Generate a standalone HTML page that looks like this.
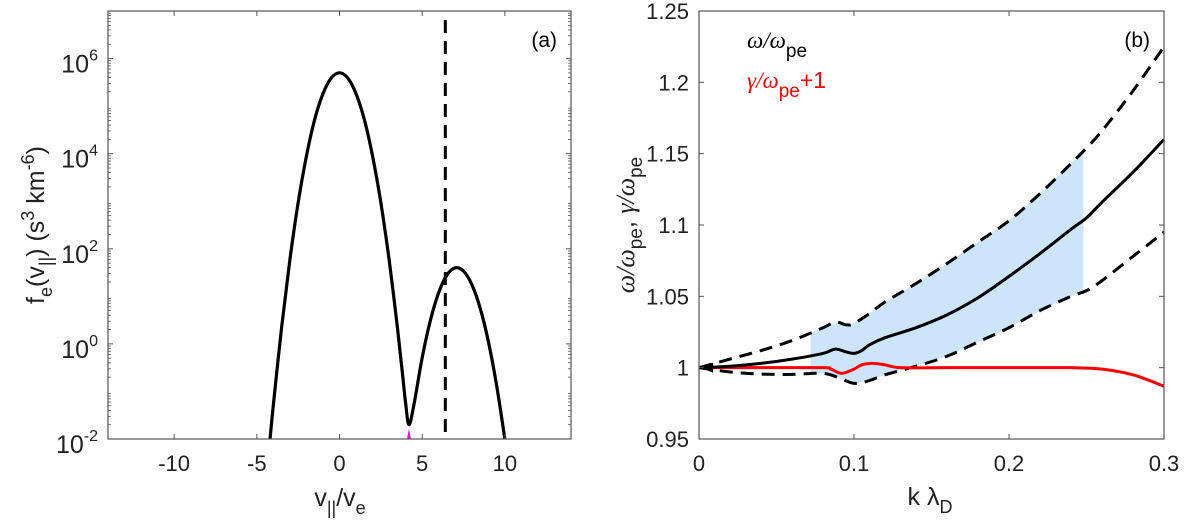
<!DOCTYPE html>
<html><head><meta charset="utf-8"><style>
body{margin:0;background:#fff;}
svg{display:block;font-family:"Liberation Sans",sans-serif;}
</style></head><body>
<svg id="fig" width="1200" height="526" viewBox="0 0 1200 526">
<g id="pa"></g>
<g id="pb"></g>
</svg>
<script>
// Panel (a) data: v_par/v_e and log10 f_e
const aV = [-4.2,-4,-3.5,-3,-2.5,-2,-1.5,-1,-0.5,0,0.5,1,1.5,2,2.5,3,3.5,3.8,4,4.2,4.5,5,5.5,6,6.5,7,7.5,8,8.5,9,9.5,10];
const aLogF = [-2.0,-1.28,0.35,1.77,2.97,3.95,4.72,5.26,5.59,5.7,5.59,5.26,4.72,3.95,2.97,1.77,0.35,-0.6,-1.25,-1.7,-1.28,-0.29,0.5,1.08,1.45,1.6,1.53,1.25,0.76,0.055,-0.87,-2.0];
const aVline = [6.4];
const aXTicks = [-10,-5,0,5,10];
const aYTicks = [-2,0,2,4,6];
// Panel (b) data
const bK = [0,0.02,0.04,0.06,0.08,0.088,0.095,0.1,0.105,0.11,0.12,0.14,0.16,0.18,0.2,0.22,0.24,0.25,0.26,0.28,0.3];
const bOmega = [1.0,1.001,1.003,1.006,1.010,1.013,1.011,1.010,1.012,1.016,1.021,1.028,1.037,1.049,1.064,1.080,1.097,1.105,1.116,1.137,1.160];
const bUpK = [0,0.02,0.04,0.06,0.08,0.088,0.095,0.1,0.11,0.12,0.14,0.16,0.18,0.2,0.22,0.24,0.25,0.26,0.28,0.3];
const bUpper = [1.0,1.006,1.012,1.019,1.028,1.032,1.030,1.031,1.038,1.046,1.059,1.073,1.088,1.103,1.122,1.143,1.154,1.166,1.194,1.225];
const bLoK = [0,0.02,0.04,0.06,0.08,0.09,0.1,0.11,0.12,0.14,0.16,0.18,0.2,0.22,0.24,0.25,0.26,0.28,0.3];
const bLower = [1.0,0.997,0.9955,0.9953,0.996,0.993,0.989,0.991,0.995,1.001,1.008,1.018,1.028,1.040,1.050,1.054,1.061,1.078,1.095];
const bRedK = [0,0.04,0.08,0.085,0.092,0.1,0.105,0.112,0.12,0.13,0.16,0.2,0.24,0.26,0.28,0.3];
const bGamma = [1.0,1.0,1.0,0.999,0.996,0.999,1.002,1.003,1.002,1.0,1.0,1.0,1.0,0.999,0.995,0.987];
const bShade = [0.072,0.248];
const bXTicks = [0,0.1,0.2,0.3];
const bYTicks = [0.95,1,1.05,1.1,1.15,1.2,1.25];

const NS="http://www.w3.org/2000/svg";
function mk(parent,tag,attrs,txt){const e=document.createElementNS(NS,tag);for(const k in attrs)e.setAttribute(k,attrs[k]);if(txt!==undefined)e.textContent=txt;parent.appendChild(e);return e;}
function smooth(pts){let d="M"+pts[0][0].toFixed(2)+","+pts[0][1].toFixed(2);for(let i=0;i<pts.length-1;i++){const p0=pts[Math.max(0,i-1)],p1=pts[i],p2=pts[i+1],p3=pts[Math.min(pts.length-1,i+2)];const c1=[p1[0]+(p2[0]-p0[0])/6,p1[1]+(p2[1]-p0[1])/6],c2=[p2[0]-(p3[0]-p1[0])/6,p2[1]-(p3[1]-p1[1])/6];d+="C"+c1[0].toFixed(2)+","+c1[1].toFixed(2)+" "+c2[0].toFixed(2)+","+c2[1].toFixed(2)+" "+p2[0].toFixed(2)+","+p2[1].toFixed(2);}return d;}
function interp(xs,ys,x){for(let i=0;i<xs.length-1;i++){if(x>=xs[i]&&x<=xs[i+1]){const t=(x-xs[i])/(xs[i+1]-xs[i]);return ys[i]+t*(ys[i+1]-ys[i]);}}return ys[ys.length-1];}

// ---------- Panel A ----------
const pa=document.getElementById('pa');
const aL=108,aR=571,aT=11,aB=439;
const ax=v=>aL+(v+14)/28*(aR-aL);
const ay=l=>aB-(l+2)/9*(aB-aT);
let c=mk(pa,'path',{d:smooth(aV.map((v,i)=>[ax(v),ay(aLogF[i])])),fill:'none',stroke:'#000','stroke-width':3.2,'stroke-linejoin':'round'});


let mg=mk(pa,'path',{d:`M${ax(4.08)},${aB} L${ax(4.2)},${ay(-1.7)+4} L${ax(4.32)},${aB}Z`,fill:'#ff00ff'});


let vl=mk(pa,'line',{x1:ax(aVline[0]),x2:ax(aVline[0]),y1:20,y2:aB,stroke:'#000','stroke-width':3,'stroke-dasharray':'13,8'});


let fa=mk(pa,'rect',{x:aL,y:aT,width:aR-aL,height:aB-aT,fill:'none',stroke:'#555','stroke-width':1.2});


for(const t of aXTicks){const x=ax(t);mk(pa,'line',{x1:x,x2:x,y1:aB,y2:aB-5,stroke:'#555'});mk(pa,'line',{x1:x,x2:x,y1:aT,y2:aT+5,stroke:'#555'});
 let tl=mk(pa,'text',{x:x,y:aB+32,'font-size':22,'text-anchor':'middle',fill:'#222'},t);
 
 }
for(let d=-2;d<7;d++){for(let m=2;m<10;m++){const y=ay(d+Math.log10(m));mk(pa,'line',{x1:aL,x2:aL+3,y1:y,y2:y,stroke:'#555','stroke-width':0.8});mk(pa,'line',{x1:aR,x2:aR-3,y1:y,y2:y,stroke:'#555','stroke-width':0.8});}}
for(const t of aYTicks){const y=ay(t);mk(pa,'line',{x1:aL,x2:aL+5,y1:y,y2:y,stroke:'#555'});mk(pa,'line',{x1:aR,x2:aR-5,y1:y,y2:y,stroke:'#555'});
 const tx=mk(pa,'text',{x:aL-10,y:y+14,'font-size':25,'text-anchor':'end',fill:'#222'});
 
 
 mk(tx,'tspan',{},'10');mk(tx,'tspan',{dy:-12,'font-size':16},String(t));}
let la=mk(pa,'text',{x:557,y:47,'font-size':21,'text-anchor':'end',fill:'#000'},'(a)');


let xla=mk(pa,'text',{x:340,y:506,'font-size':25,'text-anchor':'middle',fill:'#222'});


mk(xla,'tspan',{},'v');mk(xla,'tspan',{dy:8,'font-size':18},'||');mk(xla,'tspan',{dy:-8},'/v');mk(xla,'tspan',{dy:8,'font-size':18},'e');
let yla=mk(pa,'text',{transform:'translate(44,225) rotate(-90)','font-size':25,'text-anchor':'middle',fill:'#222'});


mk(yla,'tspan',{},'f');mk(yla,'tspan',{dy:8,'font-size':18},'e');mk(yla,'tspan',{dy:-8},'(v');mk(yla,'tspan',{dy:8,'font-size':18},'||');mk(yla,'tspan',{dy:-8},') (s');mk(yla,'tspan',{dy:-10,'font-size':18},'3');mk(yla,'tspan',{dy:10},' km');mk(yla,'tspan',{dy:-10,'font-size':18},'-6');mk(yla,'tspan',{dy:10},')');

// ---------- Panel B ----------
const pb=document.getElementById('pb');
const bL=699,bR=1164,bT=11,bB=439;
const bx=k=>bL+k/0.3*(bR-bL);
const by=w=>bB-(w-0.95)/0.3*(bB-bT);
let sp=[];const n=40;
for(let i=0;i<=n;i++){const k=bShade[0]+(bShade[1]-bShade[0])*i/n;sp.push([bx(k),by(interp(bUpK,bUpper,k))]);}
for(let i=n;i>=0;i--){const k=bShade[0]+(bShade[1]-bShade[0])*i/n;sp.push([bx(k),by(interp(bLoK,bLower,k))]);}
let sh=mk(pb,'polygon',{points:sp.map(p=>p[0].toFixed(1)+","+p[1].toFixed(1)).join(" "),fill:'#cce5fb'});


let up=mk(pb,'path',{d:smooth(bUpK.map((k,i)=>[bx(k),by(bUpper[i])])),fill:'none',stroke:'#000','stroke-width':3,'stroke-dasharray':'13,8'});


let lo=mk(pb,'path',{d:smooth(bLoK.map((k,i)=>[bx(k),by(bLower[i])])),fill:'none',stroke:'#000','stroke-width':3,'stroke-dasharray':'13,8'});


let rd=mk(pb,'path',{d:smooth(bRedK.map((k,i)=>[bx(k),by(bGamma[i])])),fill:'none',stroke:'#ff0000','stroke-width':3});


let om=mk(pb,'path',{d:smooth(bK.map((k,i)=>[bx(k),by(bOmega[i])])),fill:'none',stroke:'#000','stroke-width':3});


let ar=mk(pb,'path',{d:`M${bx(0)+1},${by(1)} L${bx(0)+14},${by(1)-5} L${bx(0)+14},${by(1)+5}Z`,fill:'#000'});


let fb=mk(pb,'rect',{x:bL,y:bT,width:bR-bL,height:bB-bT,fill:'none',stroke:'#555','stroke-width':1.2});


for(const t of bXTicks){const x=bx(t);mk(pb,'line',{x1:x,x2:x,y1:bB,y2:bB-5,stroke:'#555'});mk(pb,'line',{x1:x,x2:x,y1:bT,y2:bT+5,stroke:'#555'});
 let tl=mk(pb,'text',{x:x,y:bB+32,'font-size':22,'text-anchor':'middle',fill:'#222'},String(t));
 
 }
for(const t of bYTicks){const y=by(t);mk(pb,'line',{x1:bL,x2:bL+5,y1:y,y2:y,stroke:'#555'});mk(pb,'line',{x1:bR,x2:bR-5,y1:y,y2:y,stroke:'#555'});
 let tl=mk(pb,'text',{x:bL-10,y:y+8,'font-size':22,'text-anchor':'end',fill:'#222'},String(t));
 
 }
let lb=mk(pb,'text',{x:1150,y:47,'font-size':21,'text-anchor':'end',fill:'#000'},'(b)');


let l1=mk(pb,'text',{x:747,y:48,'font-size':23,fill:'#000'});


mk(l1,'tspan',{'font-style':'italic','font-family':'Liberation Serif,serif'},'ω/ω');mk(l1,'tspan',{dy:9,'font-size':19},'pe');
let l2=mk(pb,'text',{x:747,y:88,'font-size':23,fill:'#ff0000'});


mk(l2,'tspan',{'font-style':'italic','font-family':'Liberation Serif,serif'},'γ/ω');mk(l2,'tspan',{dy:9,'font-size':19},'pe');mk(l2,'tspan',{dy:-9},'+1');
let xlb=mk(pb,'text',{x:930,y:505,'font-size':25,'text-anchor':'middle',fill:'#222'});


mk(xlb,'tspan',{},'k λ');mk(xlb,'tspan',{dy:8,'font-size':18},'D');
let ylb=mk(pb,'text',{transform:'translate(634,225) rotate(-90)','font-size':26,'text-anchor':'middle',fill:'#222'});


mk(ylb,'tspan',{'font-style':'italic','font-family':'Liberation Serif,serif'},'ω/ω');mk(ylb,'tspan',{dy:8,'font-size':19},'pe');mk(ylb,'tspan',{dy:-8},', ');mk(ylb,'tspan',{'font-style':'italic','font-family':'Liberation Serif,serif'},'γ/ω');mk(ylb,'tspan',{dy:8,'font-size':19},'pe');
</script>
</body></html>
